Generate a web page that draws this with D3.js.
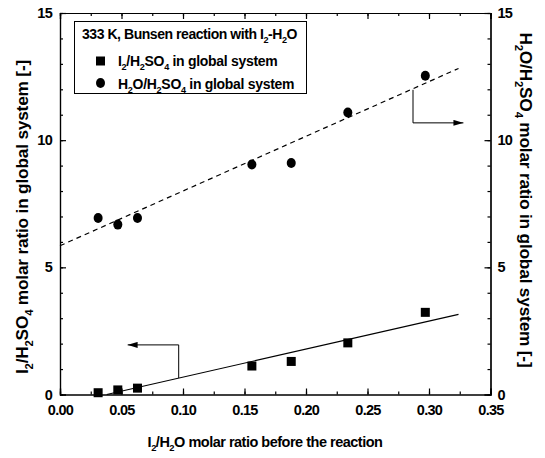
<!DOCTYPE html>
<html><head><meta charset="utf-8">
<script src="https://cdn.jsdelivr.net/npm/d3@7"></script>
<style>body{margin:0;background:#fff}svg{display:block}text{font-family:"Liberation Sans",Arial,sans-serif;font-weight:bold;fill:#000}</style>
</head><body><div id="c"></div>
<script>
const xValues = [0.031, 0.047, 0.063, 0.156, 0.188, 0.234, 0.297];
const i2Ratio = [0.07, 0.18, 0.25, 1.12, 1.30, 2.03, 3.23];
const h2oRatio = [6.94, 6.68, 6.94, 9.04, 9.10, 11.09, 12.53];
const i2Fit = {x: [0.038, 0.324], y: [0.0, 3.15]};
const h2oFit = {x: [0.0, 0.324], y: [5.85, 12.82]};
const xTicks = [0, 0.05, 0.10, 0.15, 0.20, 0.25, 0.30, 0.35];
const yTicks = [0, 5, 10, 15];

const W = 545, H = 458;
const svg = d3.select("#c").append("svg").attr("width", W).attr("height", H);
const x = d3.scaleLinear().domain([0, 0.35]).range([60, 490.5]);
const y = d3.scaleLinear().domain([0, 15]).range([394.5, 13]);
const y2 = d3.scaleLinear().domain([0, 15]).range([394.5, 13]);

function rich(sel, parts, fs) {
  parts.forEach(p => {
    const t = sel.append("tspan").text(p[0]);
    if (p[1] === "sub") t.attr("font-size", fs * 0.65).attr("dy", fs * 0.3);
    else if (p[1] === "back") t.attr("dy", -fs * 0.3);
  });
}

const minorX = d3.range(0, 0.3501, 0.025);
const minorY = d3.range(0, 15.01, 1);
function axisDraw(gen, transform) {
  const g = svg.append("g").attr("transform", transform).call(gen);
  g.select(".domain").attr("stroke", "#000").attr("stroke-width", 1.2);
  g.selectAll(".tick line").attr("stroke", "#000").attr("stroke-width", 1.2);
  g.selectAll("text").attr("font-size", 14.5).attr("font-family", "Liberation Sans, Arial").attr("font-weight", "bold").attr("letter-spacing", -0.7);
  return g;
}
axisDraw(d3.axisBottom(x).tickValues(minorX).tickSize(-3).tickFormat(""), `translate(0,${y(0)})`);
axisDraw(d3.axisTop(x).tickValues(minorX).tickSize(-3).tickFormat(""), `translate(0,${y(15)})`);
axisDraw(d3.axisLeft(y).tickValues(minorY).tickSize(-3).tickFormat(""), `translate(${x(0)},0)`);
axisDraw(d3.axisRight(y2).tickValues(minorY).tickSize(-3).tickFormat(""), `translate(${x(0.35)},0)`);
axisDraw(d3.axisBottom(x).tickValues(xTicks).tickSize(-6).tickPadding(10).tickFormat(d3.format(".2f")), `translate(0,${y(0)})`);
axisDraw(d3.axisTop(x).tickValues(xTicks).tickSize(-6).tickFormat(""), `translate(0,${y(15)})`);
axisDraw(d3.axisLeft(y).tickValues(yTicks).tickSize(-6).tickPadding(8).tickFormat(d3.format("d")), `translate(${x(0)},0)`);
axisDraw(d3.axisRight(y2).tickValues(yTicks).tickSize(-6).tickPadding(7).tickFormat(d3.format("d")), `translate(${x(0.35)},0)`);

svg.append("line").attr("x1", x(i2Fit.x[0])).attr("y1", y(i2Fit.y[0])).attr("x2", x(i2Fit.x[1])).attr("y2", y(i2Fit.y[1]))
  .attr("stroke", "#000").attr("stroke-width", 1.2);
svg.append("line").attr("x1", x(h2oFit.x[0])).attr("y1", y2(h2oFit.y[0])).attr("x2", x(h2oFit.x[1])).attr("y2", y2(h2oFit.y[1]))
  .attr("stroke", "#000").attr("stroke-width", 1.2).attr("stroke-dasharray", "5,4");

svg.append("g").selectAll("rect").data(xValues).join("rect")
  .attr("x", (d) => x(d) - 4.5).attr("y", (d, i) => y(i2Ratio[i]) - 4.5).attr("width", 9).attr("height", 9).attr("fill", "#000");
svg.append("g").selectAll("ellipse").data(xValues).join("ellipse")
  .attr("cx", (d) => x(d)).attr("cy", (d, i) => y2(h2oRatio[i])).attr("rx", 4.5).attr("ry", 5).attr("fill", "#000");

const defs = svg.append("defs");
defs.append("marker").attr("id", "ah").attr("viewBox", "0 0 10 6").attr("refX", 10).attr("refY", 3)
  .attr("markerWidth", 10).attr("markerHeight", 6).attr("markerUnits", "userSpaceOnUse").attr("orient", "auto")
  .append("path").attr("d", "M0,0L10,3L0,6Z").attr("fill", "#000");
svg.append("path").attr("d", `M${x(0.0965)},${y(0.65)}V${y(1.95)}H${x(0.055)}`)
  .attr("fill", "none").attr("stroke", "#000").attr("stroke-width", 1).attr("marker-end", "url(#ah)");
svg.append("path").attr("d", `M${x(0.287)},${y2(11.98)}V${y2(10.68)}H${x(0.328)}`)
  .attr("fill", "none").attr("stroke", "#000").attr("stroke-width", 1).attr("marker-end", "url(#ah)");

const lg = svg.append("g");
lg.append("rect").attr("x", 74.5).attr("y", 21.5).attr("width", 232).attr("height", 72).attr("fill", "#fff").attr("stroke", "#000").attr("stroke-width", 1);
const t0 = lg.append("text").attr("x", 82).attr("y", 39).attr("font-size", 14).attr("letter-spacing", -0.45);
rich(t0, [["333 K, Bunsen reaction with I"], ["2", "sub"], ["-H", "back"], ["2", "sub"], ["O", "back"]], 14);
lg.append("rect").attr("x", 96).attr("y", 61 - 4.5).attr("width", 9).attr("height", 9).attr("fill", "#000");
lg.append("ellipse").attr("cx", 100.5).attr("cy", 83).attr("rx", 4.5).attr("ry", 5).attr("fill", "#000");
const t1 = lg.append("text").attr("x", 118).attr("y", 66).attr("font-size", 14).attr("letter-spacing", -0.3);
rich(t1, [["I"], ["2", "sub"], ["/H", "back"], ["2", "sub"], ["SO", "back"], ["4", "sub"], [" in global system", "back"]], 14);
const t2 = lg.append("text").attr("x", 118).attr("y", 89).attr("font-size", 14).attr("letter-spacing", -0.3);
rich(t2, [["H"], ["2", "sub"], ["O/H", "back"], ["2", "sub"], ["SO", "back"], ["4", "sub"], [" in global system", "back"]], 14);

const xt = svg.append("text").attr("x", 265).attr("y", 447).attr("text-anchor", "middle").attr("font-size", 14.5).attr("letter-spacing", -0.5);
rich(xt, [["I"], ["2", "sub"], ["/H", "back"], ["2", "sub"], ["O molar ratio before the reaction", "back"]], 14.5);
const yt = svg.append("text").attr("transform", "translate(28,217) rotate(-90)").attr("text-anchor", "middle").attr("font-size", 17.3).attr("letter-spacing", -0.2);
rich(yt, [["I"], ["2", "sub"], ["/H", "back"], ["2", "sub"], ["SO", "back"], ["4", "sub"], [" molar ratio in global system [-]", "back"]], 17.3);
const yt2 = svg.append("text").attr("transform", "translate(520,200) rotate(90)").attr("text-anchor", "middle").attr("font-size", 17.3).attr("letter-spacing", -0.2);
rich(yt2, [["H"], ["2", "sub"], ["O/H", "back"], ["2", "sub"], ["SO", "back"], ["4", "sub"], [" molar ratio in global system [-]", "back"]], 17.3);
</script></body></html>
